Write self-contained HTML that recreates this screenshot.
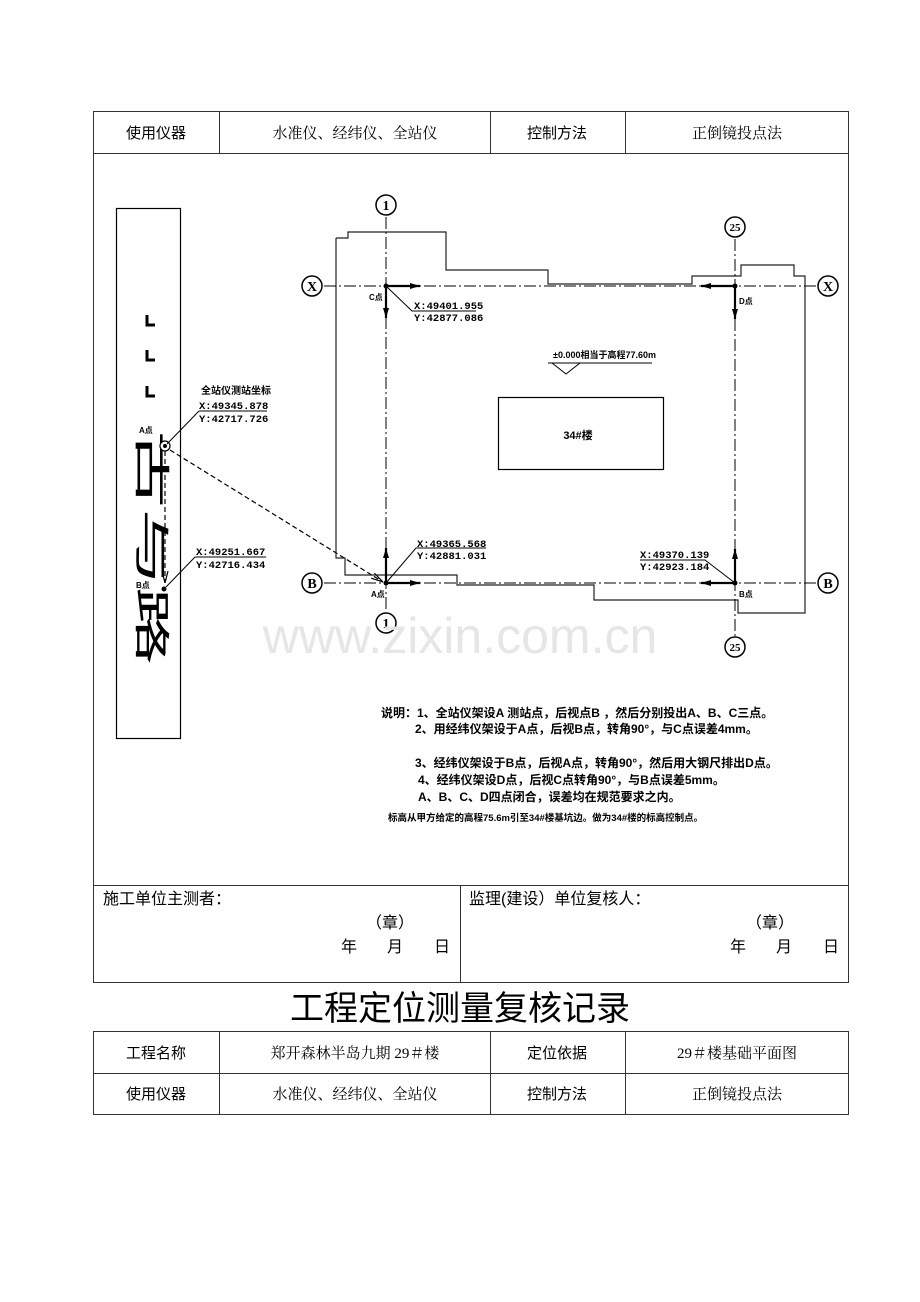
<!DOCTYPE html>
<html><head><meta charset="utf-8"><style>
html,body{margin:0;padding:0;background:#fff;}
svg{display:block;}
text{font-family:"Liberation Sans","Noto Sans CJK SC",sans-serif;fill:#000;}
.s{font-family:"Liberation Serif","Noto Serif CJK SC",serif;}
.b{font-weight:bold;}
.m{font-family:"Liberation Mono","Noto Sans CJK SC",monospace;font-weight:bold;}
</style></head><body>
<svg width="920" height="1302" viewBox="0 0 920 1302" xmlns="http://www.w3.org/2000/svg">
<defs>
<marker id="ar" markerWidth="10" markerHeight="6" refX="10" refY="3" orient="auto" markerUnits="userSpaceOnUse"><path d="M0,0 L10,3 L0,6 Z" fill="#000"/></marker>
<marker id="ah" markerWidth="12" markerHeight="8" refX="12" refY="4" orient="auto" markerUnits="userSpaceOnUse"><path d="M0,1 L12,4 L0,7" fill="none" stroke="#000" stroke-width="1.2"/></marker>
</defs>
<g stroke="#333" stroke-width="1" fill="none">
<rect x="93.5" y="111.5" width="755" height="871"/>
<line x1="93" y1="153.5" x2="848" y2="153.5"/>
<line x1="219.5" y1="111" x2="219.5" y2="153"/>
<line x1="490.5" y1="111" x2="490.5" y2="153"/>
<line x1="625.5" y1="111" x2="625.5" y2="153"/>
<line x1="93" y1="885.5" x2="848" y2="885.5"/>
<line x1="460.5" y1="885" x2="460.5" y2="982"/>
</g>
<text x="156" y="138" font-size="15" text-anchor="middle">使用仪器</text>
<text x="355" y="138" font-size="15" text-anchor="middle" class="s" fill="#333">水准仪、经纬仪、全站仪</text>
<text x="557" y="138" font-size="15" text-anchor="middle">控制方法</text>
<text x="737" y="138" font-size="15" text-anchor="middle" class="s" fill="#333">正倒镜投点法</text>

<rect x="116.5" y="208.5" width="64" height="530" fill="none" stroke="#000" stroke-width="1.2"/>
<g stroke="#000" stroke-width="3" fill="none">
<path d="M147,315 v10 h8"/><path d="M147,350 v10 h8"/><path d="M147,386 v10 h8"/>
</g>
<text transform="translate(139,430) rotate(90)" font-size="36" textLength="235" lengthAdjust="spacingAndGlyphs">古与路</text>
<text x="139" y="433" font-size="8" class="b">A点</text>
<text x="136" y="588" font-size="8" class="b">B点</text>
<circle cx="165" cy="446" r="5" fill="#fff" stroke="#000" stroke-width="1.2"/>
<circle cx="165" cy="446" r="2" fill="#000"/>
<circle cx="164" cy="589" r="2.5" fill="#000"/>
<line x1="165" y1="451" x2="165" y2="583" stroke="#000" stroke-width="1.2" stroke-dasharray="5,3" marker-end="url(#ah)"/>
<line x1="170" y1="450" x2="383" y2="582" stroke="#000" stroke-width="1.2" stroke-dasharray="5,3" marker-end="url(#ah)"/>
<line x1="167" y1="444" x2="199" y2="411" stroke="#000"/>
<line x1="199" y1="411" x2="267" y2="411" stroke="#000"/>
<text x="201" y="394" font-size="10" class="b">全站仪测站坐标</text>
<text x="199" y="409" font-size="10.5" class="m">X:49345.878</text>
<text x="199" y="422" font-size="10.5" class="m">Y:42717.726</text>
<line x1="166" y1="587" x2="195" y2="557" stroke="#000"/>
<line x1="195" y1="557" x2="266" y2="557" stroke="#000"/>
<text x="196" y="555" font-size="10.5" class="m">X:49251.667</text>
<text x="196" y="568" font-size="10.5" class="m">Y:42716.434</text>

<polyline fill="none" stroke="#222" stroke-width="1.2" points="336,238 348,238 348,232 446,232 446,270 548,270 548,284 692,284 692,276 741,276 741,265 794,265 794,276 805,276 805,613 738,613 738,600 594,600 594,585 457,585 457,575 345,575 345,558 336,558 336,238"/>
<g stroke="#000" stroke-width="1" stroke-dasharray="12,3,2,3" fill="none">
<line x1="324" y1="286" x2="816" y2="286"/>
<line x1="324" y1="583" x2="816" y2="583"/>
<line x1="386" y1="217" x2="386" y2="612"/>
<line x1="735" y1="239" x2="735" y2="636"/>
</g>
<g fill="#fff" stroke="#000" stroke-width="1.5">
<circle cx="312" cy="286" r="10"/><circle cx="828" cy="286" r="10"/>
<circle cx="312" cy="583" r="10"/><circle cx="828" cy="583" r="10"/>
<circle cx="386" cy="205" r="10"/><circle cx="386" cy="623" r="10"/>
<circle cx="735" cy="227" r="10"/><circle cx="735" cy="647" r="10"/>
</g>
<g font-size="14" class="b" text-anchor="middle">
<text x="312" y="291" class="s b">X</text><text x="828" y="291" class="s b">X</text>
<text x="312" y="588" class="s b">B</text><text x="828" y="588" class="s b">B</text>
<text x="386" y="210" class="s b">1</text><text x="386" y="628" class="s b">1</text>
<text x="735" y="231" class="s b" font-size="11">25</text><text x="735" y="651" class="s b" font-size="11">25</text>
</g>
<g stroke="#000" stroke-width="2.2">
<line x1="386" y1="286" x2="420" y2="286" marker-end="url(#ar)"/>
<line x1="386" y1="286" x2="386" y2="318" marker-end="url(#ar)"/>
<line x1="386" y1="583" x2="420" y2="583" marker-end="url(#ar)"/>
<line x1="386" y1="583" x2="386" y2="548" marker-end="url(#ar)"/>
<line x1="735" y1="286" x2="701" y2="286" marker-end="url(#ar)"/>
<line x1="735" y1="286" x2="735" y2="319" marker-end="url(#ar)"/>
<line x1="735" y1="583" x2="701" y2="583" marker-end="url(#ar)"/>
<line x1="735" y1="583" x2="735" y2="549" marker-end="url(#ar)"/>
</g>
<g fill="#000"><circle cx="386" cy="286" r="2.5"/><circle cx="386" cy="583" r="2.5"/><circle cx="735" cy="286" r="2.5"/><circle cx="735" cy="583" r="2.5"/></g>
<text x="369" y="300" font-size="8" class="b">C点</text>
<text x="739" y="304" font-size="8" class="b">D点</text>
<text x="371" y="597" font-size="8" class="b">A点</text>
<text x="739" y="597" font-size="8" class="b">B点</text>
<g stroke="#000" fill="none">
<polyline points="386,286 412,311 476,311"/>
<polyline points="386,583 416,548 486,548"/>
<polyline points="735,583 705,560 640,560"/>
</g>
<text x="414" y="309" font-size="10.5" class="m">X:49401.955</text>
<text x="414" y="321" font-size="10.5" class="m">Y:42877.086</text>
<text x="417" y="547" font-size="10.5" class="m">X:49365.568</text>
<text x="417" y="559" font-size="10.5" class="m">Y:42881.031</text>
<text x="640" y="558" font-size="10.5" class="m">X:49370.139</text>
<text x="640" y="570" font-size="10.5" class="m">Y:42923.184</text>
<text x="553" y="358" font-size="9" class="b">±0.000相当于高程77.60m</text>
<polyline points="548,363 652,363" stroke="#000" fill="none"/>
<polyline points="552,363 566,374 580,363" stroke="#000" fill="none"/>
<rect x="498.5" y="397.5" width="165" height="72" fill="none" stroke="#000" stroke-width="1.2"/>
<text x="578" y="439" font-size="11" class="b" text-anchor="middle">34#楼</text>
<text x="460" y="653" font-size="50" text-anchor="middle" style="fill:#e6e6e6">www.zixin.com.cn</text>
<g font-size="12" class="b">
<text x="381" y="717">说明：1、全站仪架设A 测站点，后视点B ，然后分别投出A、B、C三点。</text>
<text x="415" y="733">2、用经纬仪架设于A点，后视B点，转角90°，与C点误差4mm。</text>
<text x="415" y="767">3、经纬仪架设于B点，后视A点，转角90°，然后用大钢尺排出D点。</text>
<text x="418" y="784">4、经纬仪架设D点，后视C点转角90°，与B点误差5mm。</text>
<text x="418" y="801">A、B、C、D四点闭合，误差均在规范要求之内。</text>
<text x="388" y="821" font-size="9.5">标高从甲方给定的高程75.6m引至34#楼基坑边。做为34#楼的标高控制点。</text>
</g>
<g font-size="16">
<text x="103" y="904">施工单位主测者：</text>
<text x="366" y="928">（章）</text>
<text x="341" y="952">年</text><text x="387" y="952">月</text><text x="434" y="952">日</text>
<text x="469" y="904">监理(建设）单位复核人：</text>
<text x="746" y="928">（章）</text>
<text x="730" y="952">年</text><text x="776" y="952">月</text><text x="823" y="952">日</text>
</g>
<text x="460" y="1020" font-size="34" text-anchor="middle">工程定位测量复核记录</text>
<g stroke="#333" stroke-width="1" fill="none">
<rect x="93.5" y="1031.5" width="755" height="83"/>
<line x1="93" y1="1073.5" x2="848" y2="1073.5"/>
<line x1="219.5" y1="1031" x2="219.5" y2="1114"/>
<line x1="490.5" y1="1031" x2="490.5" y2="1114"/>
<line x1="625.5" y1="1031" x2="625.5" y2="1114"/>
</g>
<text x="156" y="1058" font-size="15" text-anchor="middle">工程名称</text>
<text x="355" y="1058" font-size="15" text-anchor="middle" class="s" fill="#333">郑开森林半岛九期 29＃楼</text>
<text x="557" y="1058" font-size="15" text-anchor="middle">定位依据</text>
<text x="737" y="1058" font-size="15" text-anchor="middle" class="s" fill="#333">29＃楼基础平面图</text>
<text x="156" y="1099" font-size="15" text-anchor="middle">使用仪器</text>
<text x="355" y="1099" font-size="15" text-anchor="middle" class="s" fill="#333">水准仪、经纬仪、全站仪</text>
<text x="557" y="1099" font-size="15" text-anchor="middle">控制方法</text>
<text x="737" y="1099" font-size="15" text-anchor="middle" class="s" fill="#333">正倒镜投点法</text>
</svg>
</body></html>
